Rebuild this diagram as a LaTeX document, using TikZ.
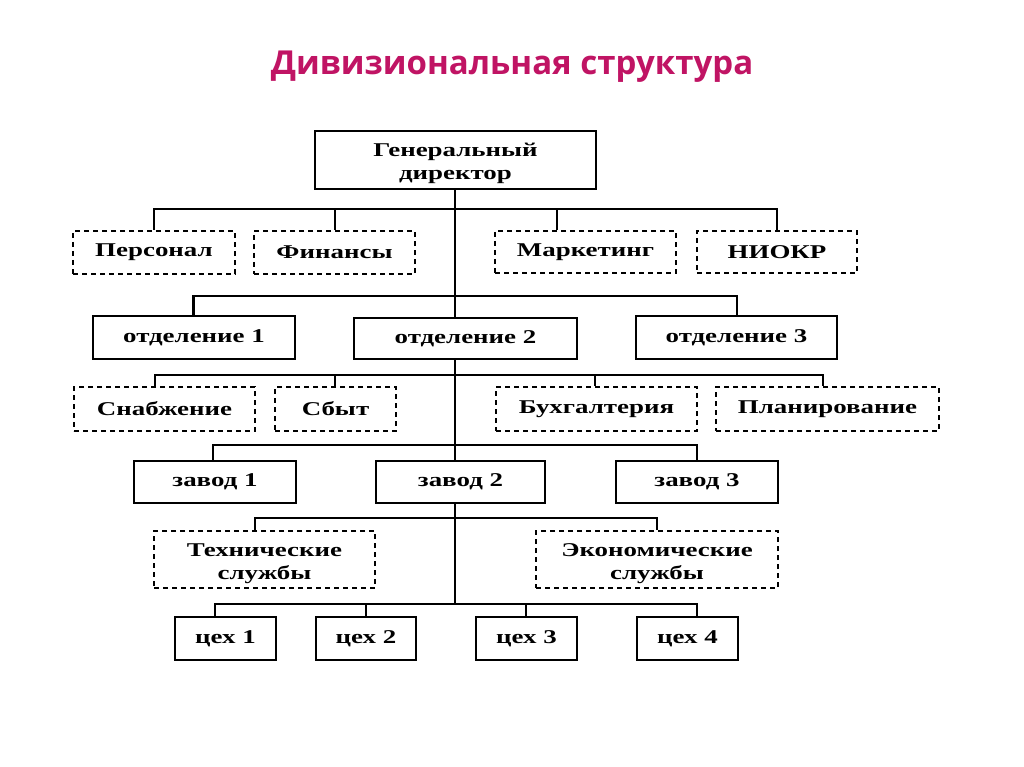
\documentclass[tikz,border=0pt]{standalone}
\usepackage{fontspec}
\newfontfamily\boxfont[FakeStretch=1.38]{Liberation Serif}
\newfontfamily\titlefont{Open Sans}
\definecolor{titlepink}{RGB}{192,20,100}
\newcommand{\twolines}[2]{\raisebox{-3.5pt}[\height][\depth]{\begin{tabular}{@{}c@{}}#1\\#2\end{tabular}}}
\begin{document}
\begin{tikzpicture}[x=1pt,y=-1pt,
    unit/.style = {draw, line width=2pt, inner sep=0pt, align=center,
                   font=\boxfont\bfseries\fontsize{19.5}{23}\selectfont},
    staff/.style = {unit, dashed, dash pattern=on 5pt off 4pt}]
    \useasboundingbox (0,0) rectangle (1024,767);
    \node[font=\titlefont\bfseries\fontsize{33}{40}\selectfont, text=titlepink] (title) at (512,67) {Дивизиональная структура};
    % general director and staff
    \node[unit, minimum width=281, minimum height=58] (gd) at (455.5,160) {\twolines{Генеральный}{директор}};
    \node[staff, minimum width=162, minimum height=43] (pers) at (154,252.5) {Персонал};
    \node[staff, minimum width=161, minimum height=43] (fin) at (334.5,252.5) {Финансы};
    \node[staff, minimum width=181, minimum height=42] (mark) at (585.5,252) {Маркетинг};
    \node[staff, minimum width=160, minimum height=42] (niokr) at (777,252) {НИОКР};
    % divisions
    \node[unit, minimum width=202, minimum height=43] (otd1) at (194,337.5) {отделение 1};
    \node[unit, minimum width=223, minimum height=41] (otd2) at (465.5,338.5) {отделение 2};
    \node[unit, minimum width=201, minimum height=43] (otd3) at (736.5,337.5) {отделение 3};
    \node[staff, minimum width=181, minimum height=44] (snab) at (164.5,409) {Снабжение};
    \node[staff, minimum width=121, minimum height=44] (sbyt) at (335.5,409) {Сбыт};
    \node[staff, minimum width=201, minimum height=44] (buh) at (596.5,409) {Бухгалтерия};
    \node[staff, minimum width=223, minimum height=44] (plan) at (827.5,409) {Планирование};
    % plants
    \node[unit, minimum width=162, minimum height=42] (z1) at (215,482) {завод 1};
    \node[unit, minimum width=169, minimum height=42] (z2) at (460.5,482) {завод 2};
    \node[unit, minimum width=162, minimum height=42] (z3) at (697,482) {завод 3};
    \node[staff, minimum width=221, minimum height=57] (tech) at (264.5,559.5) {\twolines{Технические}{службы}};
    \node[staff, minimum width=242, minimum height=57] (econ) at (657,559.5) {\twolines{Экономические}{службы}};
    % shops
    \node[unit, minimum width=101, minimum height=43] (c1) at (225.5,638.5) {цех 1};
    \node[unit, minimum width=100, minimum height=43] (c2) at (366,638.5) {цех 2};
    \node[unit, minimum width=101, minimum height=43] (c3) at (526.5,638.5) {цех 3};
    \node[unit, minimum width=101, minimum height=43] (c4) at (687.5,638.5) {цех 4};
    % junctions on the trunk
    \coordinate (j1) at (455,209);
    \coordinate (j2) at (455,296);
    \coordinate (j3) at (455,375);
    \coordinate (j4) at (455,445);
    \coordinate (j5) at (455,518);
    \coordinate (j6) at (455,604);
    \begin{scope}[line width=2.2pt]
        \draw (gd.south -| j1) -- (otd2.north -| j1);
        \draw (otd2.south -| j1) -- (z2.north -| j1);
        \draw (z2.south -| j1) -- (j6);
        \draw (pers.north) |- (j1) -| (niokr.north);
        \draw ([xshift=0.5pt]fin.north) |- (j1);
        \draw ([xshift=-28.5pt]mark.north) |- (j1);
        \draw ([xshift=-0.5pt]otd1.north) |- (j2) -| ([xshift=0.5pt]otd3.north);
        \draw ([xshift=-9.5pt]snab.north) |- (j3) -| ([xshift=-4.5pt]plan.north);
        \draw ([xshift=-0.5pt]sbyt.north) |- (j3);
        \draw ([xshift=-1.5pt]buh.north) |- (j3);
        \draw ([xshift=-2pt]z1.north) |- (j4) -| (z3.north);
        \draw ([xshift=-9.5pt]tech.north) |- (j5) -| (econ.north);
        \draw ([xshift=-10.5pt]c1.north) |- (j6) -| ([xshift=9.5pt]c4.north);
        \draw (c2.north) |- (j6);
        \draw ([xshift=-0.5pt]c3.north) |- (j6);
    \end{scope}
\end{tikzpicture}
\end{document}
